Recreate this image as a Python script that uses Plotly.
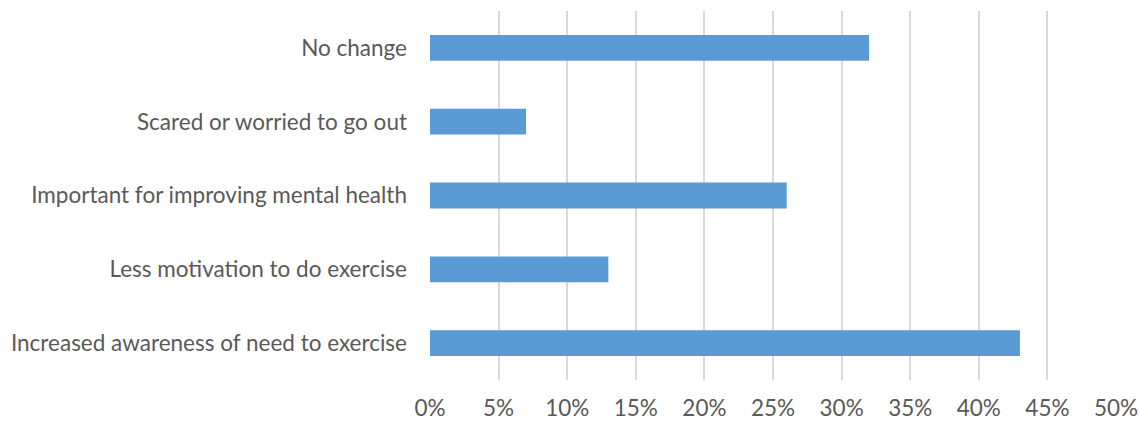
import plotly.graph_objects as go

categories = [
    "Increased awareness of need to exercise",
    "Less motivation to do exercise",
    "Important for improving mental health",
    "Scared or worried to go out",
    "No change",
]
values = [0.43, 0.13, 0.26, 0.07, 0.32]
tick_vals = [0, 0.05, 0.10, 0.15, 0.20, 0.25, 0.30, 0.35, 0.40, 0.45, 0.50]
tick_text = ["0%", "5%", "10%", "15%", "20%", "25%", "30%", "35%", "40%", "45%", "50%"]

fig = go.Figure(go.Bar(
    x=values, y=categories, orientation="h",
    marker=dict(color="#5B9BD5", line=dict(width=0)),
))
fig.update_layout(
    width=1140, height=422,
    margin=dict(l=430, r=24, t=11, b=42),
    paper_bgcolor="white", plot_bgcolor="white",
    bargap=0.65,
    font=dict(family="Lato, Calibri, sans-serif", size=22.5, color="#595959"),
    showlegend=False,
)
fig.update_xaxes(
    automargin=False,
    range=[0, 0.5], tickvals=tick_vals, ticktext=tick_text,
    showgrid=True, gridcolor="#D9D9D9", gridwidth=1.5,
    zeroline=False, showline=False, ticks="", ticklabelstandoff=12,
)
fig.update_yaxes(
    automargin=False, showgrid=False, zeroline=False, showline=False,
    ticks="", ticklabelstandoff=22,
)
fig.write_html("out.html", config={"displayModeBar": False},
               post_script="document.body.style.margin='0';")
